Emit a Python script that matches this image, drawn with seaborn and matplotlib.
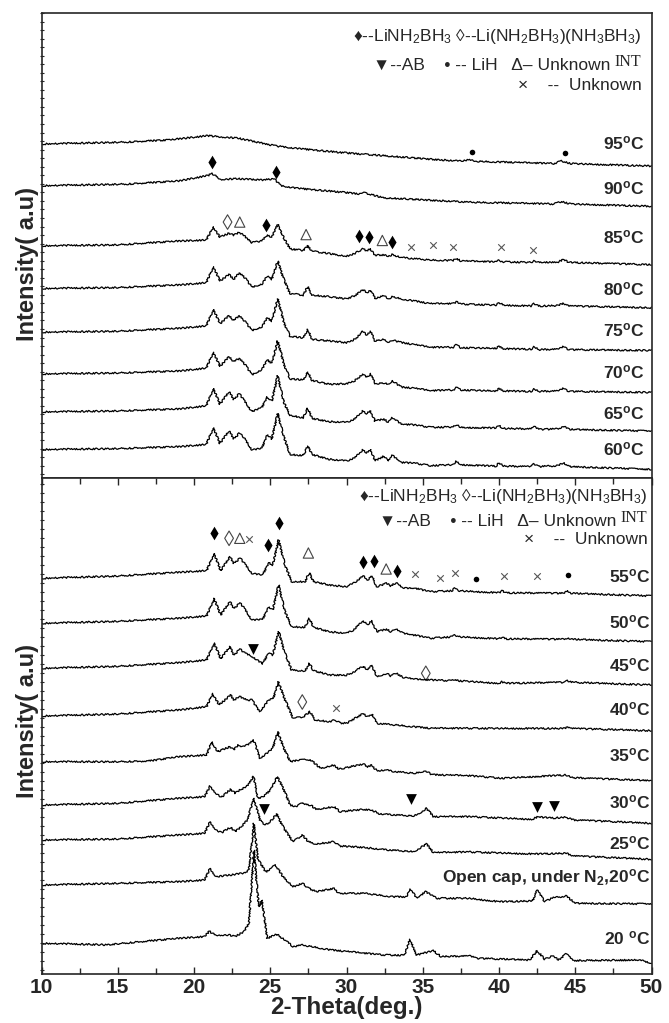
import matplotlib
matplotlib.use("Agg")
import matplotlib.pyplot as plt
import numpy as np
import pandas as pd
import seaborn as sns

# ---------------- data (2-theta in deg, intensity in arbitrary units) ----------------
# upper panel: 60-85 C share a vertex grid
TH_A = [10, 15, 19, 20.8, 21.27, 21.7, 22.3, 22.6, 22.97, 23.25, 23.8, 24.45, 24.8, 25.1, 25.49,
        25.9, 26.3, 27.17, 27.45, 27.75, 28.9, 30.0, 30.55, 31.06, 31.32, 31.58, 31.87, 32.46,
        32.74, 33.0, 33.6, 34.4, 35.5, 37.0, 37.2, 37.5, 39.8, 40.0, 40.3, 42.1, 42.3, 42.6,
        43.9, 44.2, 44.6, 50]
I_60 = [0, 1, 3, 5.3, 23, 6.3, 19.7, 11.3, 17, 13, -0.3, 1.3, 15.7, 11.3, 38, 13, -5.3, -6.3, 3.7,
        -5.3, -10.3, -12, -8.7, -0.3, -3.7, 0.3, -12, -7, -12, -6.3, -13.7, -14.3, -17, -16, -12.5,
        -16, -17.5, -14, -17.5, -18, -15, -18, -17, -14, -18, -21]
I_65 = [0, 1, 3, 6.3, 24.7, 8, 21.3, 13, 19, 13, 0.3, 4.7, 15.7, 11.3, 38, 9.7, -3.7, -6.3, 3.7,
        -7, -10.3, -11, -7.5, 1, -2, 1.3, -9.7, -7.7, -11, -6.3, -13, -13.7, -16.3, -16, -13.5,
        -16.5, -17, -14.5, -17.5, -18, -15.5, -18.5, -18, -15, -18.5, -20.3]
I_70 = [0, 1, 3, 6, 23, 8, 18, 13, 16.3, 12, -1, 4.7, 14.7, 11.3, 34.7, 10, -5.3, -6.3, 2, -7,
        -11, -10.3, -7, -0.3, -3.7, 0.3, -10.3, -9.7, -11, -7, -14, -15, -17.7, -17, -14.5, -17,
        -18, -15, -18, -18.5, -16, -18.5, -18, -15.5, -18.5, -19.5]
I_75 = [0, 1, 4, 6.5, 24, 9, 17.3, 12.3, 17.3, 13, 1.7, 5.7, 15, 11.7, 35, 10, -4.3, -6, 3, -7.7,
        -9.3, -11, -7.5, 0.7, -2.7, 0.7, -9.3, -7.7, -10.3, -8.3, -11, -13, -16, -16, -13.5,
        -16.5, -17, -14.5, -17.5, -18, -15.5, -18.5, -18, -15.5, -18.5, -19.3]
I_80 = [0, 1, 3.7, 6, 23, 8, 14.7, 9.7, 16.3, 13, 1.3, 4.7, 13, 9.7, 29, 9, -5.3, -7, 2, -7,
        -8.7, -11, -7.5, -1, -4.3, -2, -10.3, -7.7, -11, -8.7, -11, -13, -16, -16, -14, -16.5,
        -17.5, -15, -17.5, -18.5, -16, -18.5, -18, -15.5, -18.5, -20.3]
I_85 = [0, 1, 5, 6, 20, 9, 13.3, 11, 14.3, 11, 3.3, 5, 11.7, 9, 22.7, 8, -3.3, -5, 0, -5.7,
        -8.3, -11, -8, -3.3, -5, -3.7, -10, -9.5, -11, -9.3, -12.4, -13.5, -15, -15.5, -13.5,
        -16, -17, -15.5, -17, -17.5, -16, -17.5, -17, -14.5, -17.5, -20]
TH_90 = [10, 15.6, 19, 20.9, 21.2, 21.75, 22.9, 24.5, 24.9, 25.3, 25.7, 26.8, 29.6, 30.8, 31.2,
         32.4, 35.2, 38, 43.6, 44.1, 44.7, 50]
I_90 = [0, 1.7, 5, 10.7, 12.7, 6.7, 7.3, 6, 7, 6.5, 0, -2.7, -6.7, -8.5, -7.5, -12.7, -15, -17.3,
        -19.3, -16.7, -19.3, -21.7]
TH_95 = [10, 15.6, 18.4, 20.9, 22.9, 25.4, 26.8, 29.6, 32.4, 35.2, 37.4, 38.0, 38.5, 43.6, 44.1,
         44.7, 50]
I_95 = [0, 2, 4.3, 8.7, 6, -2.3, -4.7, -9, -12.3, -15.7, -18, -16.7, -18.3, -20.7, -18, -20.7, -23.3]

# lower panel
TH_B = [10, 15, 19, 20.83, 21.31, 21.75, 22.36, 22.6, 23.03, 23.3, 23.8, 24.5, 24.9, 25.16, 25.55,
        25.97, 26.4, 27.28, 27.56, 27.83, 28.9, 30.0, 30.45, 31.1, 31.37, 31.67, 31.98, 32.63,
        32.9, 33.25, 33.7, 34.5, 35.5, 36.9, 37.1, 37.35, 40.0, 40.2, 40.45, 44.3, 44.5, 44.75, 50]
I_55 = [0, 2.3, 6, 7.6, 25, 7.6, 21.6, 15, 20, 15, 5, 3.3, 15.6, 13.3, 38.3, 13.3, -3.4, -3.4, 5.6,
        -3.4, -6.7, -8.4, -5, 2.3, -1.7, 2.3, -8.4, -5, -7.7, -4.4, -10, -10, -13.4, -12.5, -10,
        -12.5, -14.5, -12.5, -14.5, -15, -12.4, -15, -17.7]
I_50 = [0, 2, 5, 7.3, 25, 8.3, 21.6, 15, 20, 15, 3.3, 4, 16.6, 13.3, 38.3, 11.6, -3.4, -4, 5, -4,
        -8.4, -10, -6.7, 2.6, -1.7, 2.6, -8.4, -6, -8.4, -6, -10, -12, -15, -13.5, -11.7, -13.5,
        -15.5, -14, -15.5, -16, -14.4, -16, -18.4]
I_45 = [0, 2, 5.6, 8.3, 25.6, 9.6, 21.6, 13.3, 19, 15.6, 12, 4.5, 15.6, 13.3, 36.6, 15, -1.7, -2.7,
        5, -2.4, -6.7, -6.7, -4, 2.3, -1.7, 3, -8.4, -5, -7.7, -5, -9, -11, -11.7, -12.5, -11,
        -12.5, -15, -13.5, -15, -14, -12.4, -14, -16.7]
TH_40 = [10, 15, 19, 20.83, 21.22, 21.65, 22.4, 22.6, 23.0, 23.5, 23.8, 24.3, 24.9, 25.2, 25.53,
         25.97, 26.5, 27.17, 27.6, 27.95, 28.9, 29.25, 29.6, 30.0, 31.1, 31.37, 31.67, 31.98,
         33.25, 35.5, 44.3, 44.5, 44.75, 50]
I_40 = [0, 2, 6, 9.3, 22.7, 11, 21, 16, 19.3, 16, 16, 4.3, 16, 17.6, 34.3, 16, -2.3, -0.7, 4.3,
        -4, -5.7, -4, -7, -7.3, 2.7, -0.7, 2, -7.3, -9, -12.3, -12.5, -10.6, -12.5, -14.7]
TH_35 = [10, 15, 17, 19, 20.83, 21.16, 21.55, 22.36, 22.6, 22.9, 23.2, 23.5, 23.9, 24.33, 24.9,
         25.16, 25.49, 25.85, 26.3, 26.8, 27.1, 27.4, 27.6, 28.3, 29.2, 29.5, 31.1, 31.4, 31.65,
         31.98, 32.6, 33.2, 34.5, 35.2, 35.6, 36.3, 38.0, 40.2, 44.4, 44.8, 50]
I_35 = [0, 0, 0.6, 5, 6.7, 20, 10, 15, 11.7, 16.7, 15, 16.7, 21.7, 3.4, 10, 13.4, 30, 15, 0, 1.6,
        2.5, 1, 2.5, -6.6, -3.3, -7.6, -2.3, -5, -3.3, -9, -8.4, -10, -11.6, -9, -13, -13.3, -14,
        -16.6, -13.3, -16, -19]
TH_30 = [10, 15, 19, 20.7, 21.05, 21.45, 21.8, 22.4, 22.7, 23.0, 23.45, 23.9, 24.2, 24.55, 25.0,
         25.46, 25.85, 26.3, 26.75, 27.1, 27.4, 27.65, 28.0, 29.2, 29.55, 31.1, 31.65, 32.2, 34.4,
         34.7, 35.25, 35.7, 38.0, 42.2, 42.5, 43.5, 44.4, 44.9, 50]
I_30 = [0, 1.7, 6.7, 8.3, 19, 11.7, 7.7, 15.7, 11.7, 15, 18.3, 28.3, 6.7, 8.3, 15, 28.3, 16.7, 0,
        -1.7, 2.7, 0, 0, -4.4, -1.7, -6.7, -4.4, -5, -9, -11, -9, -3.3, -11.7, -11.7, -14.3, -12,
        -13, -12.3, -15, -18.3]
TH_25 = [10, 15, 19, 20.7, 21.05, 21.45, 21.8, 22.4, 22.7, 23.1, 23.5, 23.93, 24.33, 24.65, 25.0,
         25.42, 25.85, 26.5, 27.1, 27.5, 28.0, 29.2, 29.55, 31.1, 32.2, 34.4, 35.25, 35.7, 38.0,
         42.3, 44.4, 44.9, 50]
I_25 = [0, 1, 5, 6.7, 18.3, 10, 7.3, 12.7, 8.3, 13.3, 20, 41.7, 20, 15, 18.3, 26, 12.7, -1.7, 5,
        -1.7, -4, -1.7, -6, -7.3, -9.3, -11.7, -4, -12.7, -12, -14, -13.3, -16, -19.3]
TH_OC = [10, 15, 19, 20.7, 21.05, 21.45, 22.4, 23.3, 23.6, 23.93, 24.2, 24.43, 24.7, 25.35, 25.85,
         26.5, 27.1, 27.5, 28.0, 29.2, 29.5, 31.2, 33.0, 33.9, 34.2, 34.6, 35.2, 35.9, 38.0, 40.0,
         42.2, 42.5, 43.0, 43.5, 44.4, 45.0, 50]
I_OC = [0, 1.7, 3.3, 5, 16.7, 8.3, 10, 12, 15, 61.7, 25, 20, 13, 20, 8, -1.7, 1.7, -3, -6.7, -3.3,
        -8.3, -8.3, -11.7, -12, -4.3, -13.3, -6.7, -13.3, -13.3, -16.7, -16, -5, -16.7, -13, -11,
        -18.3, -19]
TH_20 = [10, 14.3, 15, 19, 20.7, 21.0, 21.4, 22.3, 22.7, 23.3, 23.6, 23.93, 24.25, 24.45, 24.8,
         25.4, 25.9, 26.5, 27.1, 29.0, 32.4, 33.8, 34.16, 34.6, 35.7, 36.2, 38.1, 38.5, 42.0, 42.5,
         43.0, 43.5, 43.9, 44.4, 44.9, 49.2, 50]
I_20 = [0, -1.5, -0.5, 5, 6.7, 12, 8.3, 8.3, 6.7, 12, 20, 93, 36.7, 43.3, 5, 9.3, 4, -3.3, -1.7,
        -6.7, -11.7, -12, 4, -11.7, -7.4, -13.3, -12.7, -15, -16.7, -7.4, -16, -12.7, -16.7, -10.7,
        -17.3, -16.7, -20]

TOP_LABELS = ["95", "90", "85", "80", "75", "70", "65", "60"]
TOP_THETA = [TH_95, TH_90, TH_A, TH_A, TH_A, TH_A, TH_A, TH_A]
TOP_INT = [I_95, I_90, I_85, I_80, I_75, I_70, I_65, I_60]
TOP_OFFSET = [352, 308, 244.7, 199.7, 153.7, 109.7, 69.7, 30]

BOT_LABELS = ["55", "50", "45", "40", "35", "30", "25", "open", "20"]
BOT_THETA = [TH_B, TH_B, TH_B, TH_40, TH_35, TH_30, TH_25, TH_OC, TH_20]
BOT_INT = [I_55, I_50, I_45, I_40, I_35, I_30, I_25, I_OC, I_20]
BOT_OFFSET = [395.7, 350.7, 305.7, 258, 212.3, 169, 134, 89, 30.7]

TOP_TEXT = ["95", "90", "85", "80", "75", "70", "65", "60"]
TOP_TEXT_Y = [353, 305, 254, 199, 156, 111, 68, 30]
BOT_TEXT = ["55", "50", "45", "40", "35", "30", "25", "Open cap, under N$_\\mathregular{2}$,20", "20 "]
BOT_TEXT_Y = [398, 352, 309, 265, 219, 172, 131, 97, 36]

# phase markers (2-theta, intensity level)
TOP_MARKS = {
    "lih": ([38.2, 44.3], [344, 342]),
    "lab": ([21.2, 25.4, 24.7, 30.8, 31.5, 33.0], [333, 322, 267, 254.5, 254, 248.7]),
    "mix": ([22.2], [269.7]),
    "int": ([23.0, 27.35, 32.35], [269.7, 256.5, 250.3]),
    "unk": ([34.2, 35.7, 37.0, 40.1, 42.2], [243.7, 245.3, 243.7, 243.7, 240.7]),
    "ab": ([], []),
}
BOT_MARKS = {
    "lih": ([38.5, 44.5], [394.7, 399]),
    "lab": ([21.3, 25.6, 24.85, 31.1, 31.8, 33.3], [440.7, 450.7, 429, 412.3, 413.3, 403]),
    "mix": ([22.3, 35.2, 27.1], [435.7, 300.7, 272]),
    "int": ([23.0, 27.5, 32.6], [435.7, 421, 405]),
    "unk": ([23.6, 34.5, 36.1, 37.1, 40.3, 42.5, 29.3], [434.7, 399.7, 395.7, 400.7, 398, 398, 266.5]),
    "ab": ([23.9, 24.6, 34.25, 42.5, 43.6], [324.7, 165, 174.7, 166.7, 168]),
}

# ---------------- styling ----------------
sns.set_style("ticks")
plt.rcParams["font.family"] = ["Liberation Sans", "DejaVu Sans"]
plt.rcParams["mathtext.fontset"] = "custom"
plt.rcParams["mathtext.rm"] = "Liberation Sans"
plt.rcParams["mathtext.bf"] = "Liberation Sans:bold"
plt.rcParams["mathtext.default"] = "regular"

W, H = 669, 1023
fig = plt.figure(figsize=(W / 100, H / 100), dpi=100)
x0, x1 = 41.5, 651.5
ax_top = fig.add_axes([x0 / W, 1 - 478 / H, (x1 - x0) / W, 465 / H])
ax_bot = fig.add_axes([x0 / W, 1 - 974 / H, (x1 - x0) / W, 496 / H])


def long_frame(labels, thetas, ints, offsets):
    rows = []
    for lab, th, it, off in zip(labels, thetas, ints, offsets):
        for t, v in zip(th, it):
            rows.append({"theta": t, "intensity": off + v, "trace": lab})
    return pd.DataFrame(rows)


df_top = long_frame(TOP_LABELS, TOP_THETA, TOP_INT, TOP_OFFSET)
df_bot = long_frame(BOT_LABELS, BOT_THETA, BOT_INT, BOT_OFFSET)

for ax, df in ((ax_top, df_top), (ax_bot, df_bot)):
    sns.lineplot(data=df, x="theta", y="intensity", units="trace", estimator=None, sort=False,
                 color="black", lw=0.9, ax=ax, legend=False)
    for ln in ax.lines:
        ln.set_sketch_params(scale=0.8, length=2.5, randomness=3)

marker_style = {
    "lih": dict(marker="o", s=16, color="black", linewidths=0),
    "lab": dict(marker="d", s=48, color="black", linewidths=0),
    "mix": dict(marker="d", s=55, facecolors="none", edgecolors="#444444", linewidths=0.8),
    "int": dict(marker="^", s=55, facecolors="none", edgecolors="#444444", linewidths=0.8),
    "unk": dict(marker="x", s=22, color="#555555", linewidths=0.8),
    "ab": dict(marker="v", s=60, color="black", linewidths=0),
}
for ax, marks in ((ax_top, TOP_MARKS), (ax_bot, BOT_MARKS)):
    for key, (xs, ys) in marks.items():
        if xs:
            sns.scatterplot(x=xs, y=ys, ax=ax, legend=False, **marker_style[key])

ax_top.set_ylim(0, 465)
ax_bot.set_ylim(0, 496)

# trace labels
for ax, texts, ys, xr in ((ax_top, TOP_TEXT, TOP_TEXT_Y, 0.9877), (ax_bot, BOT_TEXT, BOT_TEXT_Y, 0.9975)):
    tr = ax.get_yaxis_transform()
    for t, y in zip(texts, ys):
        ax.text(xr, y, t + "$^\\mathregular{o}$C", transform=tr, ha="right", va="center",
                fontsize=12.5, fontweight="bold")

# phase legends
for ax, xr, yy in ((ax_top, 0.9836, (0.949, 0.895, 0.845)), (ax_bot, 0.9935, (0.962, 0.919, 0.875))):
    ax.text(xr, yy[0], "\u2666--LiNH$_2$BH$_3$ \u25ca--Li(NH$_2$BH$_3$)(NH$_3$BH$_3$)",
            transform=ax.transAxes, ha="right", va="center", fontsize=12.5)
    t_int = ax.text(xr, yy[1], "INT", transform=ax.transAxes, ha="right", va="center",
                    fontsize=11.5, family=["Liberation Serif", "DejaVu Serif"])
    ax.annotate("\u25bc--AB    \u2022 -- LiH   \u0394\u2013 Unknown ", xy=(0, 0), xycoords=t_int,
                ha="right", va="baseline", fontsize=12.5)
    ax.text(xr, yy[2], "\u00d7    --  Unknown", transform=ax.transAxes, ha="right", va="center",
            fontsize=12.5)

# axes
for ax in (ax_top, ax_bot):
    ax.set_xlim(10, 50)
    ax.set_xticks(np.arange(10, 51, 5))
    ax.set_xticks(np.arange(12.5, 50, 5), minor=True)
    ax.set_yticks(np.arange(4, 496, 9))
    ax.tick_params(axis="y", which="major", direction="inout", length=3, width=0.8, labelleft=False)
    for s in ax.spines.values():
        s.set_visible(True)
        s.set_linewidth(1.2)
    ax.set_ylabel("Intensity( a.u)", fontsize=17, fontweight="bold")
    ax.set_xlabel("")

ax_top.tick_params(axis="x", which="both", bottom=False, top=False, labelbottom=False)
ax_bot.tick_params(axis="x", which="both", direction="in", top=True, bottom=True)
ax_bot.tick_params(axis="x", which="major", length=5, width=1, labelsize=15, pad=3)
ax_bot.tick_params(axis="x", which="minor", length=4, width=1)
for lab in ax_bot.get_xticklabels():
    lab.set_fontweight("bold")
ax_bot.set_xlabel("2-Theta(deg.)", fontsize=17.5, fontweight="bold", labelpad=-1)
ax_top.yaxis.set_label_coords(-0.004, 0.46)
ax_bot.yaxis.set_label_coords(-0.004, 0.51)

fig.savefig("out.png", dpi=100)
